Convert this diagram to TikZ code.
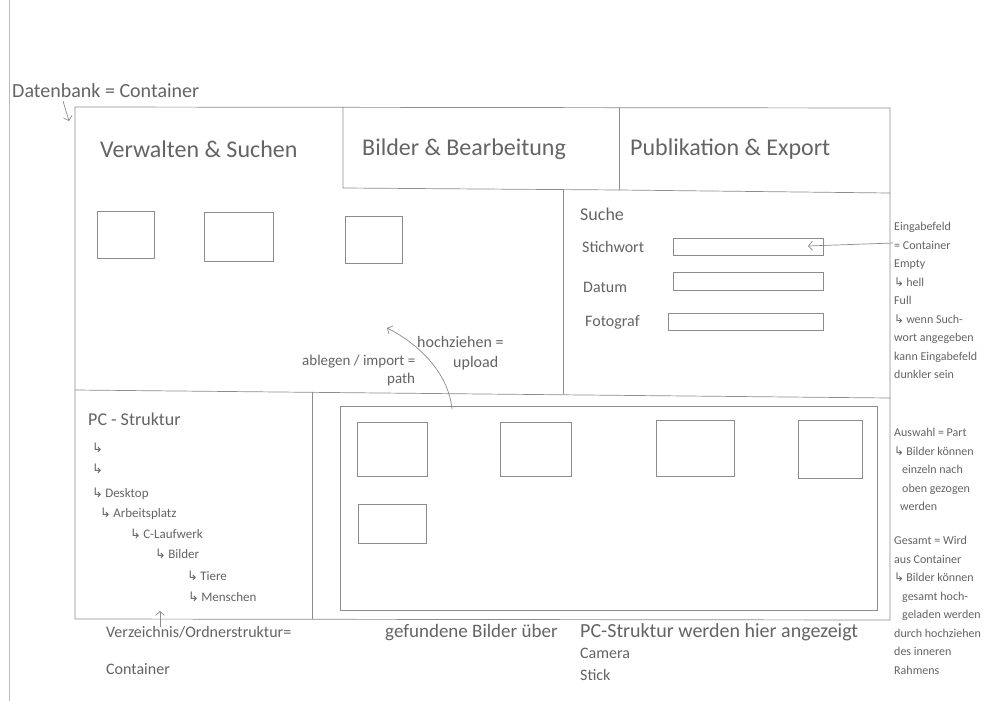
\documentclass[tikz,border=0pt]{standalone}
\usepackage{fontspec}
\setmainfont{Carlito}
\newfontfamily\symfont{DejaVu Sans}
\usetikzlibrary{arrows.meta,positioning}
\definecolor{pencil}{RGB}{140,140,140}
\definecolor{graphit}{RGB}{100,100,100}
\newcommand{\hk}{{\symfont\char"21B3}\,}
\tikzset{
  frame/.style={draw=pencil,line width=0.7pt},
  imgbox/.style={draw=pencil,line width=0.7pt,inner sep=0pt},
  note/.style={text=graphit,inner sep=0pt,anchor=base west},
  tab/.style={note,font=\fontsize{24}{26}\selectfont},
  beschrift/.style={note,font=\fontsize{16}{18}\selectfont},
  tree/.style={note,font=\fontsize{13}{15}\selectfont},
  side/.style={text=graphit,inner sep=0pt,anchor=north west,align=left,font=\fontsize{12}{18.5}\selectfont}
}
\begin{document}
\begin{tikzpicture}[x=1pt,y=-1pt,>={Straight Barb[length=4pt,width=9pt]}]
\useasboundingbox[fill=white] (0,0) rectangle (983,701);
\draw[draw=pencil!60,line width=0.6pt] (9,0) -- (9,701);

% aussenrahmen mit reitern
\draw[frame] (75,619) -- (75,107) -- (890,108) -- (890,620) -- cycle;
\draw[frame] (343,107) -- (343,188) -- (619,190) -- (890,193);
\draw[frame] (619,108) -- (619,190);
\draw[frame] (563,190) -- (563,394);
\draw[frame] (75,390) -- (890,398);
\draw[frame] (312,392) -- (312,619);

\node[note,font=\fontsize{20}{22}\selectfont] (db) at (12,97) {Datenbank = Container};
\coordinate (dbpfeil) at (69,121);
\draw[frame,->] ([xshift=51pt,yshift=-4pt]db.base west) -- (dbpfeil);

\node[tab] (verwalten) at (100,157) {Verwalten \& Suchen};
\node[tab] (bilder) at (362,155) {Bilder \& Bearbeitung};
\node[tab] (export) at (630,155) {Publikation \& Export};

% bilder oben (abgelegt)
\node[imgbox,minimum width=57pt,minimum height=47pt] (oben1) at (125.5,234.5) {};
\node[imgbox,minimum width=69pt,minimum height=49pt] (oben2) at (238.5,236.5) {};
\node[imgbox,minimum width=57pt,minimum height=47pt] (oben3) at (373.5,239.5) {};

% suche
\node[beschrift,font=\fontsize{18}{20}\selectfont] (suche) at (580,220) {Suche};
\node[beschrift] (stichwort) at (582,252) {Stichwort};
\node[beschrift] (datum) at (583,292) {Datum};
\node[beschrift] (fotograf) at (585,326) {Fotograf};
\node[imgbox,minimum width=150pt,minimum height=17pt] (feld1) at (748,246.5) {};
\node[imgbox,minimum width=150pt,minimum height=18pt] (feld2) at (748,281) {};
\node[imgbox,minimum width=155pt,minimum height=17pt] (feld3) at (745.5,321.5) {};

\node[side] (eingabe) at (894,222) {Eingabefeld\\= Container\\Empty\\\hk hell\\Full\\\hk wenn Such-\\wort angegeben\\kann Eingabefeld\\dunkler sein};
\coordinate (einstart) at (893,243);
\coordinate (einziel) at (808,246);
\draw[frame,->] (einstart) -- (einziel);

% upload pfeil
\node[beschrift,font=\fontsize{15}{17}\selectfont] (ablegen) at (302,365) {ablegen / import =};
\node[beschrift,font=\fontsize{15}{17}\selectfont] (path) at (387,383) {path};
\node[beschrift] (hoch) at (417,347) {hochziehen =};
\node[beschrift] (upload) at (453,367) {upload};
\coordinate (hochstart) at (452,409);
\coordinate (hochziel) at (387,328);
\draw[frame,->] (hochstart) .. controls (448,370) and (415,342) .. (hochziel);

% pc struktur
\node[beschrift,font=\fontsize{18}{20}\selectfont] (pc) at (88,425) {PC - Struktur};
\node[tree] (t1) at (92,452) {\hk};
\node[tree] (t2) at (92,473) {\hk};
\node[tree] (desktop) at (92,497) {\hk Desktop};
\node[tree] (arbeit) at (100,517) {\hk Arbeitsplatz};
\node[tree] (laufwerk) at (130,538) {\hk C-Laufwerk};
\node[tree] (ordner) at (155,558) {\hk Bilder};
\node[tree] (tiere) at (187,580) {\hk Tiere};
\node[tree] (menschen) at (188,601) {\hk Menschen};

% auswahl rahmen
\node[imgbox,minimum width=537pt,minimum height=204pt] (rahmen) at (608.5,508) {};
\node[imgbox,minimum width=70pt,minimum height=54pt] (unten1) at (392,449) {};
\node[imgbox,minimum width=71pt,minimum height=54pt] (unten2) at (535.5,449) {};
\node[imgbox,minimum width=78pt,minimum height=56pt] (unten3) at (695,448) {};
\node[imgbox,minimum width=64pt,minimum height=58pt] (unten4) at (830,449) {};
\node[imgbox,minimum width=68pt,minimum height=39pt] (unten5) at (392,523.5) {};

\node[side] (auswahl) at (894,428) {Auswahl = Part\\\hk Bilder können\\\hspace{8pt}einzeln nach\\\hspace{8pt}oben gezogen\\\hspace{6pt}werden};
\node[side] (gesamt) at (894,536) {Gesamt = Wird\\aus Container\\\hk Bilder können\\\hspace{8pt}gesamt hoch-\\\hspace{8pt}geladen werden\\durch hochziehen\\des inneren\\Rahmens};

% unten
\node[beschrift] (verz) at (106,637) {Verzeichnis/Ordnerstruktur=};
\node[beschrift] (cont) at (106,674) {Container};
\coordinate (verzpfeil) at (160,611);
\draw[frame,->] (160,627) -- (verzpfeil);
\node[beschrift,font=\fontsize{19}{21}\selectfont] (gefunden) at (385,637) {gefundene Bilder über};
\node[beschrift,font=\fontsize{20}{22}\selectfont] (quelle) at (580,637) {PC-Struktur werden hier angezeigt};
\node[beschrift] (camera) at (580,658) {Camera};
\node[beschrift] (stick) at (580,680) {Stick};
\end{tikzpicture}
\end{document}
